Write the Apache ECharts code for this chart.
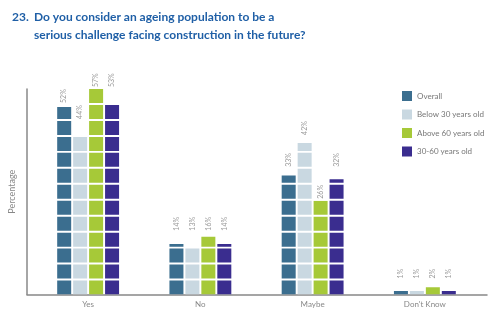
<!DOCTYPE html>
<html><head><meta charset="utf-8">
<script src="https://cdn.jsdelivr.net/npm/echarts@6/dist/echarts.min.js"></script>
<style>html,body{margin:0;padding:0;background:#fff}#c{width:500px;height:321px}</style>
</head><body><div id="c"></div>
<script>
var categories = ['Yes', 'No', 'Maybe', "Don't Know"];
var seriesNames = ['Overall', 'Below 30 years old', 'Above 60 years old', '30-60 years old'];
var overall = [52, 14, 33, 1];
var below30 = [44, 13, 42, 1];
var above60 = [57, 16, 26, 2];
var mid3060 = [53, 14, 32, 1];
var colors = ['#3b6e8f', '#c9d8e1', '#a6c938', '#3a2d8f'];
var values = [overall, below30, above60, mid3060];

var chart = echarts.init(document.getElementById('c'));
var font = 'Lato';
var series = values.map(function (v, i) {
  return {
    name: seriesNames[i], type: 'pictorialBar', xAxisIndex: 1, yAxisIndex: 1,
    symbol: 'rect', symbolRepeat: true, symbolClip: true,
    symbolSize: [14, 14], symbolMargin: 1, barWidth: 14, barGap: '14%',
    itemStyle: { color: colors[i] },
    label: { show: true, position: 'top', rotate: 90, align: 'left', verticalAlign: 'middle',
      distance: 2, formatter: '{c}%', color: '#999', fontSize: 7, fontFamily: font },
    data: v
  };
});
chart.setOption({
  animation: false,
  title: [
    { text: '23.', left: 7, top: 3, textStyle: { color: '#1f5fa6', fontSize: 12, fontWeight: 'bold', fontFamily: font, lineHeight: 18 } },
    { text: 'Do you consider an ageing population to be a\nserious challenge facing construction in the future?', left: 29, top: 3,
      textStyle: { color: '#1f5fa6', fontSize: 12, fontWeight: 'bold', fontFamily: font, lineHeight: 18 } }
  ],
  legend: {
    orient: 'vertical', left: 397, top: 86, itemWidth: 10, itemHeight: 10, itemGap: 8.5,
    icon: 'rect', textStyle: { color: '#777', fontSize: 8, fontFamily: font },
    data: seriesNames
  },
  grid: [
    { left: 27, right: 13, top: 89, bottom: 26.5 },
    { left: 32, right: 19, top: 89, bottom: 26.5 }
  ],
  xAxis: [
    { type: 'value', gridIndex: 0, min: 0, max: 1, axisLine: { show: true, lineStyle: { color: '#888', width: 1.5 } },
      axisTick: { show: false }, axisLabel: { show: false }, splitLine: { show: false } },
    { type: 'category', gridIndex: 1, data: categories, axisLine: { show: false }, axisTick: { show: false },
      axisLabel: { color: '#888', fontSize: 8, fontFamily: font, margin: 6 } }
  ],
  yAxis: [
    { type: 'value', gridIndex: 0, min: 0, max: 57, name: 'Percentage', nameLocation: 'middle', nameGap: 10,
      nameTextStyle: { color: '#888', fontSize: 9, fontFamily: font },
      axisLine: { show: true, lineStyle: { color: '#888', width: 1.5 } }, axisTick: { show: false },
      axisLabel: { show: false }, splitLine: { show: false } },
    { type: 'value', gridIndex: 1, min: 0, max: 57, show: false, splitLine: { show: false } }
  ],
  series: series
});
</script></body></html>
